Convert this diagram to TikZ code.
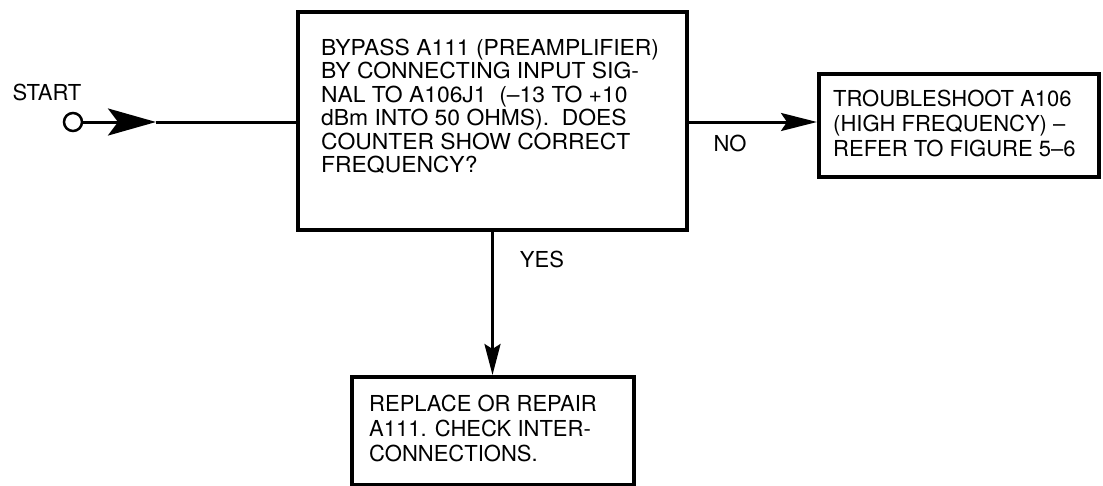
\documentclass[tikz,border=0pt]{standalone}
\usepackage{fontspec}
\setmainfont{TeX Gyre Heros}
\newfontfamily\widefont[Ligatures=TeX,FakeStretch=1.04]{TeX Gyre Heros}
\usetikzlibrary{arrows.meta}
\begin{document}
\begin{tikzpicture}[x=1pt,y=-1pt,
  box/.style={draw, line width=4pt, inner sep=0pt, anchor=north west},
  txt/.style={font=\fontsize{22}{25}\selectfont, align=left, inner sep=0pt, anchor=base west},
  lbl/.style={font=\fontsize{22}{25}\selectfont, inner sep=0pt},
  conn/.style={line width=3pt},
  bigtip/.style={-{Stealth[length=48pt,width=27pt,inset=10pt]}},
  tip/.style={-{Stealth[length=36pt,width=18pt,inset=6pt]}},
  dtip/.style={-{Stealth[length=31pt,width=16pt,inset=5pt]}}]
\useasboundingbox (0,0) rectangle (1103,485);
% boxes
\node[box, minimum width=389pt, minimum height=218pt] (main) at (296,10) {};
\node[box, minimum width=280pt, minimum height=103pt] (right) at (817,72) {};
\node[box, minimum width=282pt, minimum height=108pt] (bottom) at (350,375) {};
% texts (anchored at the baseline of the last line)
\node[txt, font=\widefont\fontsize{22}{23.5}\selectfont] (maintxt) at (321,172.5) {BYPASS A111 (PREAMPLIFIER)\\BY CONNECTING INPUT SIG-\\NAL TO A106J1\ \ (–13 TO +10\\dBm INTO 50 OHMS).\ \ DOES\\COUNTER SHOW CORRECT\\FREQUENCY?};
\node[txt] (righttxt) at (833,156) {TROUBLESHOOT A106\\(HIGH FREQUENCY) –\\REFER TO FIGURE 5–6};
\node[txt] (bottomtxt) at (369,461) {REPLACE OR REPAIR\\A111. CHECK INTER-\\CONNECTIONS.};
% start
\node[lbl] (startlbl) at (47,92) {START};
\node[circle, draw, line width=2.5pt, minimum size=18pt, inner sep=0pt] (s) at (73,122) {};
\coordinate (sa) at (156,122);
\draw[conn, bigtip] (s) -- (sa);
\draw[conn] (sa) -- (main.west |- sa);
% no
\draw[conn, tip] (main.east |- sa) -- (right.west |- sa);
\node[lbl] (nolbl) at (730,143) {NO};
% yes
\draw[conn, dtip] (main.south) -- (main.south |- bottom.north);
\node[lbl] (yeslbl) at (542,259) {YES};
\end{tikzpicture}
\end{document}
